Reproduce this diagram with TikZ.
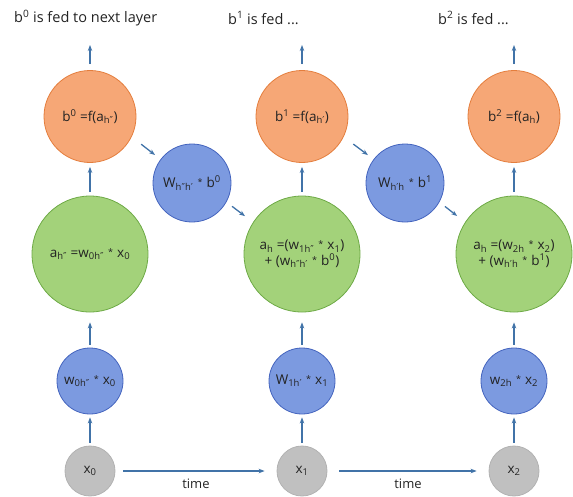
\documentclass[tikz,border=0pt]{standalone}
\usepackage{fontspec}
\setmainfont{Open Sans}
\newfontfamily\djfont{DejaVu Sans}
\usetikzlibrary{arrows.meta}
\newcommand\sbs[1]{\textsubscript{#1}}
\newcommand\sps[1]{\textsuperscript{#1}}
\newcommand\dpr{{\djfont ″}}
\newcommand\spr{{\djfont ′}}
\newcommand\mulstar{\hspace{0.3em}\raisebox{2pt}{\fontsize{9}{9}\selectfont *}\hspace{0.3em}}
\definecolor{orfill}{RGB}{246,167,118}
\definecolor{ordraw}{RGB}{228,125,60}
\definecolor{grfill}{RGB}{163,210,122}
\definecolor{grdraw}{RGB}{110,170,70}
\definecolor{blfill}{RGB}{124,154,224}
\definecolor{bldraw}{RGB}{68,100,190}
\definecolor{gyfill}{RGB}{192,192,192}
\definecolor{gydraw}{RGB}{178,178,178}
\definecolor{arcol}{RGB}{65,115,168}
\definecolor{txcol}{RGB}{35,35,35}
\begin{document}
\begin{tikzpicture}[x=1pt,y=-1pt,
  circ/.style={circle,inner sep=0pt,line width=0.8pt,text=txcol,align=center,font=\fontsize{13.5}{15.5}\selectfont},
  orangec/.style={circ,fill=orfill,draw=ordraw,minimum size=92pt},
  greenc/.style={circ,fill=grfill,draw=grdraw,minimum size=116pt},
  bluec/.style={circ,fill=blfill,draw=bldraw,minimum size=78pt},
  bluesm/.style={circ,fill=blfill,draw=bldraw,minimum size=66pt},
  grayc/.style={circ,fill=gyfill,draw=gydraw,minimum size=50pt},
  arr/.style={-{Stealth[length=6pt,width=4.5pt]},draw=arcol,fill=arcol,line width=1.3pt},
  toptext/.style={anchor=west,text=txcol,inner sep=0pt,font=\fontsize{14.5}{16}\selectfont},
  timetext/.style={text=txcol,inner sep=0pt,font=\fontsize{13}{15}\selectfont}]
\useasboundingbox (0,0) rectangle (573,496);
% top labels
\node[toptext] (t0) at (14,18) {b\sps{0} is fed to next layer};
\node[toptext] (t1) at (228,18) {b\sps{1} is fed ...};
\node[toptext] (t2) at (438,18) {b\sps{2} is fed ...};
% column 0
\node[orangec] (o0) at (90,116.5) {b\sps{0} =f(a\sbs{h\dpr})};
\node[greenc]  (g0) at (90,254) {a\sbs{h\dpr} =w\sbs{0h\dpr}\mulstar x\sbs{0}};
\node[bluesm]  (w0) at (90,381) {w\sbs{0h\dpr}\mulstar x\sbs{0}};
\node[grayc]   (x0) at (90,471) {x\sbs{0}};
% recurrent 0
\node[bluec]   (r0) at (192,183) {W\sbs{h\dpr h\spr}\mulstar b\sps{0}};
% column 1
\node[orangec] (o1) at (302,116.5) {b\sps{1} =f(a\sbs{h\spr})};
\node[greenc]  (g1) at (302,254) {a\sbs{h} =(w\sbs{1h\dpr}\mulstar x\sbs{1})\\ + (w\sbs{h\dpr h\spr}\mulstar b\sps{0})};
\node[bluesm]  (w1) at (302,381) {W\sbs{1h\spr}\mulstar x\sbs{1}};
\node[grayc]   (x1) at (302,471) {x\sbs{1}};
% recurrent 1
\node[bluec]   (r1) at (405,183) {W\sbs{h\spr h}\mulstar b\sps{1}};
% column 2
\node[orangec] (o2) at (514,116.5) {b\sps{2} =f(a\sbs{h})};
\node[greenc]  (g2) at (514,254) {a\sbs{h} =(w\sbs{2h}\mulstar x\sbs{2})\\ + (w\sbs{h\spr h}\mulstar b\sps{1})};
\node[bluesm]  (w2) at (514,381) {w\sbs{2h}\mulstar x\sbs{2}};
\node[grayc]   (x2) at (514,471) {x\sbs{2}};
% top arrow targets
\coordinate (e0) at (90,45);
\coordinate (e1) at (302,45);
\coordinate (e2) at (514,45);
% vertical arrows
\foreach \i in {0,1,2}{
  \draw[arr,shorten <=6pt] (o\i.north) -- (e\i);
  \draw[arr,shorten <=4pt,shorten >=4pt] (g\i.north) -- (o\i.south);
  \draw[arr,shorten <=3pt,shorten >=10pt] (w\i.north) -- (g\i.south);
  \draw[arr,shorten <=3pt,shorten >=3pt] (x\i.north) -- (w\i.south);
}
% diagonal arrows
\draw[arr,shorten <=12pt,shorten >=7pt] (o0.-26) -- (r0.143);
\draw[arr,shorten <=7pt,shorten >=10pt] (r0.-29) -- (g1.147);
\draw[arr,shorten <=12pt,shorten >=7pt] (o1.-26) -- (r1.143);
\draw[arr,shorten <=7pt,shorten >=10pt] (r1.-29) -- (g2.147);
% time arrows
\draw[arr,shorten <=8pt,shorten >=12pt] (x0) -- node[timetext,below=7pt] (tm0) {time} (x1);
\draw[arr,shorten <=12pt,shorten >=12pt] (x1) -- node[timetext,below=7pt] (tm1) {time} (x2);
\end{tikzpicture}
\end{document}
